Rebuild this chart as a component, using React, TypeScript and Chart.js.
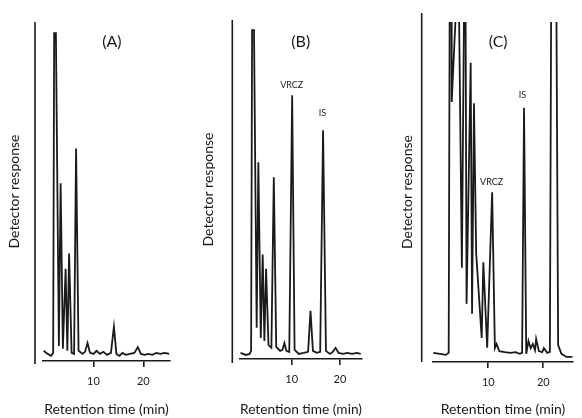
import { useEffect, useRef } from 'react';
import { Chart, registerables } from 'chart.js';

Chart.register(...registerables);

// ---------- data ----------
const timeA = [0, 0.8, 1.5, 1.9, 2.1, 2.45, 3.05, 3.4, 3.85, 4.4, 4.75, 5.1, 5.6, 6.1, 6.5, 7.0, 7.8, 8.3, 8.8, 9.3, 10.0, 10.6, 11.3, 12.0, 12.7, 13.5, 14.1, 14.6, 15.2, 15.8, 16.5, 17.3, 18.2, 18.9, 19.5, 20.3, 21.0, 21.8, 22.6, 23.4, 24.3, 25.2];
const responseA = [3.0, 2.1, 1.5, 2.4, 96.7, 96.7, 4.4, 52.4, 3.6, 27.2, 3.0, 31.7, 2.4, 2.1, 62.7, 3.0, 2.1, 2.7, 5.3, 2.4, 2.1, 3.0, 2.1, 2.7, 1.8, 2.4, 10.1, 2.1, 1.5, 2.4, 1.8, 2.1, 2.4, 4.1, 2.1, 1.8, 2.1, 1.8, 2.4, 2.1, 2.4, 2.1];

const timeB = [-0.6, 0.5, 1.3, 1.6, 1.8, 2.2, 2.75, 3.1, 3.6, 4.0, 4.35, 4.7, 5.2, 5.8, 6.3, 6.8, 7.6, 8.1, 8.5, 8.9, 9.5, 10.1, 10.6, 11.5, 12.5, 13.4, 13.9, 14.4, 15.2, 15.9, 16.5, 17.1, 17.9, 18.5, 19.1, 19.7, 20.6, 21.5, 22.5, 23.5, 24.3];
const responseB = [1.8, 1.2, 1.5, 2.4, 97.0, 97.0, 9.2, 58.0, 6.2, 30.8, 5.3, 26.6, 4.1, 3.3, 53.6, 3.6, 2.4, 2.7, 4.7, 2.4, 2.1, 77.8, 2.7, 1.5, 1.8, 2.1, 14.2, 2.4, 1.8, 2.1, 67.5, 2.4, 1.5, 2.1, 3.3, 1.8, 1.5, 1.8, 1.5, 1.8, 1.5];

const timeC = [0, 1.2, 2.3, 2.8, 3.0, 3.3, 3.35, 4.45, 4.6, 5.2, 5.65, 5.85, 6.05, 6.8, 7.05, 7.4, 7.8, 8.8, 9.1, 9.8, 10.7, 11.2, 11.5, 12.0, 13.0, 14.0, 15.0, 15.7, 16.15, 16.5, 16.9, 17.3, 17.7, 18.1, 18.5, 18.7, 19.2, 19.8, 20.1, 20.7, 21.2, 21.45, 22.35, 22.7, 23.3, 24.2, 25.3];
const responseC = [2.7, 2.4, 2.1, 2.7, 115, 115, 76.5, 115, 115, 27.7, 115, 115, 17.1, 88.0, 14.2, 76.1, 31.9, 7.1, 29.3, 4.2, 49.9, 4.1, 5.3, 3.2, 2.9, 2.7, 2.9, 2.4, 2.7, 74.8, 2.4, 6.2, 4.1, 5.3, 3.5, 6.8, 3.2, 2.9, 4.1, 2.7, 3.0, 115, 115, 5.0, 2.4, 1.5, 1.5];

const xTickValues = [10, 20];
const xAxisTitle = 'Retention time (min)';
const yAxisTitle = 'Detector response';

const panelNames = ['(A)', '(B)', '(C)'];
// panel title anchor [time, response]
const panelNameAnchors = [[13.7, 94.1], [11.87, 93.5], [11.8, 94.2]];

const peakLabelsB = ['VRCZ', 'IS'];
const peakAnchorsB = [[10.0, 80.8], [16.35, 72.5]];
const peakLabelsC = ['IS', 'VRCZ'];
const peakAnchorsC = [[16.2, 78.5], [10.6, 52.9]];

// ---------- style / layout ----------
const INK = '#1a1a1a';
const FONT = 'Lato, "Open Sans", sans-serif';

type Panel = {
  time: number[];
  resp: number[];
  name: string;
  nameAt: number[];
  peaks: string[];
  peaksAt: number[][];
  left: number;
  width: number;
  padTop: number;
  padRight: number;
  yPadTop: number;
  yPadBottom: number;
  xTitlePadTop: number;
  spineGap: number;
  spineAbove: number;
  spineBelow: number;
  xMin: number;
  xMax: number;
};

const PANELS: Panel[] = [
  {
    time: timeA, resp: responseA, name: panelNames[0], nameAt: panelNameAnchors[0],
    peaks: [], peaksAt: [],
    left: 0, width: 190, padTop: 22, padRight: 20, yPadTop: 5.6, yPadBottom: 20.6,
    xTitlePadTop: 5.0, spineGap: 8, spineAbove: 0, spineBelow: 3, xMin: -0.14, xMax: 25.36,
  },
  {
    time: timeB, resp: responseB, name: panelNames[1], nameAt: panelNameAnchors[1],
    peaks: peakLabelsB, peaksAt: peakAnchorsB,
    left: 190, width: 190, padTop: 20, padRight: 18, yPadTop: 9.6, yPadBottom: 23.6,
    xTitlePadTop: 7.0, spineGap: 7.7, spineAbove: 0, spineBelow: 4, xMin: -0.7, xMax: 24.56,
  },
  {
    time: timeC, resp: responseC, name: panelNames[2], nameAt: panelNameAnchors[2],
    peaks: peakLabelsC, peaksAt: peakAnchorsC,
    left: 380, width: 202, padTop: 22, padRight: 9, yPadTop: 18.6, yPadBottom: 17.6,
    xTitlePadTop: 4.0, spineGap: 11.3, spineAbove: 9, spineBelow: 0, xMin: -0.05, xMax: 25.4,
  },
];

function makeOverlay(p: Panel) {
  return {
    id: 'overlay',
    afterDraw(chart: any) {
      const { ctx, chartArea, scales } = chart;
      ctx.save();
      ctx.strokeStyle = INK;
      ctx.lineWidth = 1.6;
      const sx = chartArea.left - p.spineGap;
      ctx.beginPath();
      ctx.moveTo(sx, chartArea.top - p.spineAbove);
      ctx.lineTo(sx, chartArea.bottom + p.spineBelow);
      ctx.stroke();
      ctx.fillStyle = INK;
      ctx.textAlign = 'center';
      ctx.textBaseline = 'middle';
      ctx.font = `16px ${FONT}`;
      ctx.fillText(p.name, scales.x.getPixelForValue(p.nameAt[0]), scales.y.getPixelForValue(p.nameAt[1]));
      ctx.font = `9px ${FONT}`;
      p.peaks.forEach((txt, i) => {
        const a = p.peaksAt[i];
        ctx.fillText(txt, scales.x.getPixelForValue(a[0]), scales.y.getPixelForValue(a[1]));
      });
      ctx.restore();
    },
  };
}

function PanelChart({ p }: { p: Panel }) {
  const ref = useRef<HTMLCanvasElement | null>(null);
  useEffect(() => {
    if (!ref.current) return;
    const chart = new Chart(ref.current, {
      type: 'line',
      data: {
        datasets: [
          {
            data: p.time.map((t, i) => ({ x: t, y: p.resp[i] })),
            borderColor: INK,
            borderWidth: 1.8,
            pointRadius: 0,
            tension: 0,
            fill: false,
          },
        ],
      },
      options: {
        responsive: false,
        animation: false,
        devicePixelRatio: 1,
        layout: { padding: { left: 0, top: p.padTop, right: p.padRight, bottom: 0 } },
        plugins: { legend: { display: false }, tooltip: { enabled: false } },
        scales: {
          x: {
            type: 'linear',
            min: p.xMin,
            max: p.xMax,
            afterBuildTicks: (scale: any) => {
              scale.ticks = xTickValues.map((v) => ({ value: v }));
            },
            ticks: {
              color: INK,
              font: { family: FONT, size: 11 },
              padding: 8,
              maxRotation: 0,
              autoSkip: false,
              callback: (v: any) => String(v),
            },
            grid: {
              display: true,
              drawOnChartArea: false,
              drawTicks: true,
              tickLength: 6,
              color: INK,
              lineWidth: 1.6,
            },
            border: { display: true, color: INK, width: 1.6 },
            title: {
              display: true,
              text: xAxisTitle,
              color: INK,
              font: { family: FONT, size: 14 },
              padding: { top: p.xTitlePadTop, bottom: 0 },
            },
          },
          y: {
            type: 'linear',
            min: 0,
            max: 100,
            ticks: { display: false },
            grid: { display: false, drawTicks: false },
            border: { display: false },
            title: {
              display: true,
              text: yAxisTitle,
              color: INK,
              font: { family: FONT, size: 14 },
              padding: { top: p.yPadTop, bottom: p.yPadBottom },
            },
          },
        },
      },
      plugins: [makeOverlay(p)],
    });
    return () => chart.destroy();
  }, [p]);
  return (
    <canvas
      ref={ref}
      width={p.width}
      height={418}
      style={{ position: 'absolute', left: p.left, top: 0, width: p.width, height: 418 }}
    />
  );
}

export default function App() {
  return (
    <div style={{ position: 'fixed', left: 0, top: 0, width: 582, height: 418, background: '#ffffff', overflow: 'hidden' }}>
      {PANELS.map((p, i) => (
        <PanelChart key={i} p={p} />
      ))}
    </div>
  );
}
